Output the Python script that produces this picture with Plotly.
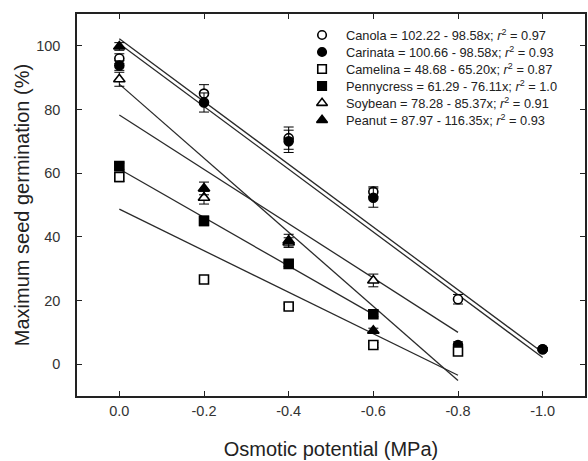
import plotly.graph_objects as go

# ---- data ----
x_levels = [0.0, -0.2, -0.4, -0.6, -0.8, -1.0]
x_tick_labels = ["0.0", "-0.2", "-0.4", "-0.6", "-0.8", "-1.0"]
y_ticks = [0, 20, 40, 60, 80, 100]

canola = [96.0, 85.0, 71.0, 54.2, 20.4, 4.7]
canola_err = [1.5, 2.8, 3.5, 1.5, 1.5, 0.5]
carinata = [93.8, 82.2, 70.0, 52.3, 6.0, 4.7]
carinata_err = [1.5, 3.0, 3.5, 3.0, 1.0, 0.5]
camelina = [58.8, 26.6, 18.1, 6.0, 4.0]
camelina_err = [1.5, 1.0, 0.8, 0.8, 0.8]
pennycress = [62.2, 45.0, 31.5, 15.7]
pennycress_err = [1.0, 1.5, 0.8, 0.8]
soybean = [89.5, 52.3, 38.2, 26.3]
soybean_err = [2.2, 2.0, 1.5, 2.0]
peanut = [99.8, 55.2, 38.8, 10.5]
peanut_err = [1.2, 2.0, 2.0, 0.8]

names = ["Canola", "Carinata", "Camelina", "Pennycress", "Soybean", "Peanut"]
intercepts = [102.22, 100.66, 48.68, 61.29, 78.28, 87.97]
slopes = [98.58, 98.58, 65.20, 76.11, 85.37, 116.35]
r2_text = ["0.97", "0.93", "0.87", "1.0", "0.91", "0.93"]
line_end = [1.0, 1.0, 0.8, 0.6, 0.8, 0.8]  # |osmotic potential| where fitted line ends

series = [canola, carinata, camelina, pennycress, soybean, peanut]
errors = [canola_err, carinata_err, camelina_err, pennycress_err, soybean_err, peanut_err]
symbols = ["circle", "circle", "square", "square", "triangle-up", "triangle-up"]
filled = [False, True, False, True, False, True]

# plot-area geometry in pixels (for placing the in-plot key)
W, H = 588, 461
L, R, T, B = 77, 1, 14, 65
plot_w, plot_h = W - L - R, H - T - B
key_marker_px = 323
key_text_px = 345
key_first_row_px = 35
key_row_step_px = 17

fig = go.Figure()

# regression lines
for a, b, e in zip(intercepts, slopes, line_end):
    fig.add_trace(go.Scatter(
        x=[0.0, -e], y=[a, a - b * e], mode="lines",
        line=dict(color="#2a2a2a", width=1.3), showlegend=False, hoverinfo="skip"))

def marker_style(sym, fl, size_scale=1.0):
    return dict(symbol=sym, size=(9 if sym != "triangle-up" else 10) * size_scale,
                color="black" if fl else "white",
                line=dict(color="black", width=1.6))

# data points
for nm, ys, er, sym, fl in zip(names, series, errors, symbols, filled):
    fig.add_trace(go.Scatter(
        x=x_levels[:len(ys)], y=ys, mode="markers", name=nm, showlegend=False,
        marker=marker_style(sym, fl),
        error_y=dict(type="data", array=er, color="black", thickness=1, width=5)))

# key: symbols on an overlay axis spanning [0,1] x [0,1], text as annotations
key_x = (key_marker_px - L) / plot_w
key_tx = (key_text_px - L) / plot_w
for i, (nm, sym, fl, a, b, r2) in enumerate(zip(names, symbols, filled,
                                                  intercepts, slopes, r2_text)):
    ypx = key_first_row_px + i * key_row_step_px
    yp = (H - B - ypx) / plot_h
    fig.add_trace(go.Scatter(
        x=[key_x], y=[yp], xaxis="x2", yaxis="y2", mode="markers", showlegend=False,
        hoverinfo="skip", marker=marker_style(sym, fl, 0.95)))
    fig.add_annotation(
        x=key_tx, y=yp, xref="paper", yref="paper", xanchor="left", yanchor="middle",
        showarrow=False,
        text=f"{nm} = {a:.2f} - {b:.2f}x; <i>r</i><sup>2</sup> = {r2}",
        font=dict(family="Arial, Liberation Sans", size=12.8, color="#222222"))

axis_common = dict(showline=True, linecolor="#222222", linewidth=1.5, mirror="ticks",
                   ticks="inside", ticklen=5, tickcolor="#222222", showgrid=False,
                   zeroline=False, tickfont=dict(family="Arial, Liberation Sans", size=14.5,
                                                 color="#333333"))

fig.update_layout(
    width=W, height=H,
    margin=dict(l=L, r=R, t=T, b=B),
    paper_bgcolor="white", plot_bgcolor="white",
    font=dict(family="Arial, Liberation Sans", color="#222222"),
    showlegend=False,
    xaxis=dict(range=[0.1, -1.1], tickvals=x_levels, ticktext=x_tick_labels,
               ticklabelstandoff=1,
               title=dict(text="Osmotic potential (MPa)", font=dict(size=20), standoff=24),
               **axis_common),
    yaxis=dict(range=[-10, 110], tickvals=y_ticks, ticktext=[str(v) for v in y_ticks],
               ticklabelstandoff=12,
               title=dict(text="Maximum seed germination (%)", font=dict(size=20), standoff=1),
               **axis_common),
    xaxis2=dict(overlaying="x", range=[0, 1], visible=False, fixedrange=True),
    yaxis2=dict(overlaying="y", range=[0, 1], visible=False, fixedrange=True),
)

fig.write_html("out.html")
